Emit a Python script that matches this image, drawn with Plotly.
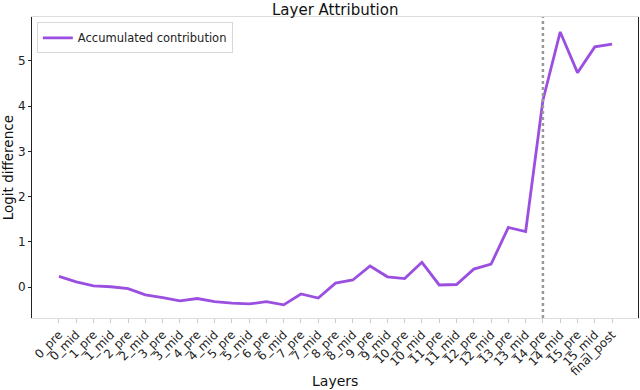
import plotly.graph_objects as go

layers = [
    '0_pre', '0_mid', '1_pre', '1_mid', '2_pre', '2_mid', '3_pre', '3_mid',
    '4_pre', '4_mid', '5_pre', '5_mid', '6_pre', '6_mid', '7_pre', '7_mid',
    '8_pre', '8_mid', '9_pre', '9_mid', '10_pre', '10_mid', '11_pre', '11_mid',
    '12_pre', '12_mid', '13_pre', '13_mid', '14_pre', '14_mid', '15_pre', '15_mid',
    'final_post',
]
contribution = [
    0.24, 0.12, 0.03, 0.01, -0.03, -0.17, -0.23, -0.30,
    -0.25, -0.32, -0.35, -0.37, -0.32, -0.39, -0.15, -0.24,
    0.09, 0.16, 0.47, 0.23, 0.19, 0.55, 0.05, 0.06,
    0.40, 0.51, 1.32, 1.23, 4.13, 5.64, 4.74, 5.31,
    5.37,
]
marker_layer = '14_pre'

FONT = 'DejaVu Sans'
PURPLE = '#9b4fe0'

fig = go.Figure()
fig.add_trace(go.Scatter(
    x=layers, y=contribution, mode='lines', name='Accumulated contribution',
    line=dict(color=PURPLE, width=2.8),
))
fig.add_shape(
    type='line', xref='x', yref='paper', x0=marker_layer, x1=marker_layer, y0=0, y1=1,
    line=dict(color='#999999', width=2.5, dash='dot'),
)

# axis titles and title as annotations so the margins stay fixed
fig.add_annotation(text='Layers', xref='paper', yref='paper', x=0.5, y=-0.21, yanchor='middle',
                   showarrow=False, font=dict(size=14, color='#111111'))
fig.add_annotation(text='Logit difference', xref='paper', yref='paper', x=-0.04, y=0.5,
                   textangle=-90, xanchor='center', showarrow=False,
                   font=dict(size=13.5, color='#111111'))
fig.add_annotation(text='Layer Attribution', xref='paper', yref='paper', x=0.5, y=1.0,
                   yshift=18, yanchor='top', showarrow=False,
                   font=dict(size=15, color='#111111'))

fig.update_layout(
    width=640, height=390,
    margin=dict(l=32, r=2, t=17, b=72),
    paper_bgcolor='white', plot_bgcolor='white',
    font=dict(family=FONT, color='#222222', size=12),
    showlegend=True,
    legend=dict(x=0.008, y=0.982, xanchor='left', yanchor='top',
                bgcolor='white', bordercolor='#d8d8d8', borderwidth=1,
                font=dict(size=11.5, color='#222222')),
    xaxis=dict(
        type='category', categoryorder='array', categoryarray=layers,
        range=[-1.56, 33.5], tickangle=-45, tickfont=dict(size=12),
        ticks='outside', ticklen=4, tickcolor='#cccccc', automargin=False,
        showline=True, linecolor='#dddddd', mirror=True, showgrid=False,
    ),
    yaxis=dict(
        range=[-0.68, 5.97], tickvals=[0, 1, 2, 3, 4, 5],
        ticks='outside', ticklen=3, tickcolor='#222222', tickfont=dict(size=12),
        showline=True, linecolor='#222222', mirror=True, showgrid=False, zeroline=False,
        automargin=False,
    ),
)

fig.write_html('out.html', config={'displayModeBar': False},
               post_script="document.body.style.margin='0';")
